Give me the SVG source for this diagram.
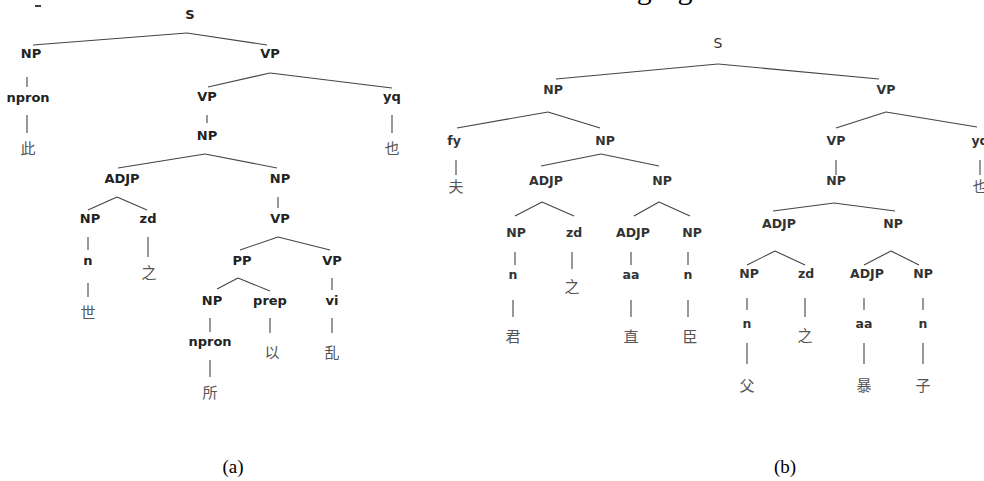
<svg xmlns="http://www.w3.org/2000/svg" width="984" height="481" viewBox="0 0 984 481">
<style>
.l{font-family:"DejaVu Sans",sans-serif;font-weight:bold;font-size:13px;fill:#222;text-anchor:middle}
.r{font-family:"DejaVu Sans",sans-serif;font-weight:bold;font-size:12.5px;fill:#333;text-anchor:middle}
.z{font-family:"Noto Sans CJK SC",sans-serif;font-size:15px;fill:#555;text-anchor:middle}
.c{font-family:"Liberation Serif",serif;font-size:19px;fill:#000;text-anchor:middle}
.e line{stroke:#444;stroke-width:1.1;fill:none}
</style>
<rect width="984" height="481" fill="#fff"/>
<text x="535" y="-1" style="font-family:'Liberation Serif',serif;font-size:30px;fill:#000">following figure.</text>
<line x1="35" y1="6" x2="41" y2="6" stroke="#000" stroke-width="1.5"/>
<g id="connectors" class="e">
<line x1="187" y1="33" x2="33" y2="45"/><line x1="187" y1="33" x2="267" y2="45"/>
<line x1="27" y1="77" x2="27" y2="87"/><line x1="27" y1="115" x2="27" y2="133"/>
<line x1="270" y1="73" x2="208" y2="87"/><line x1="270" y1="73" x2="392" y2="88"/>
<line x1="207" y1="115" x2="207" y2="123"/><line x1="392" y1="115" x2="392" y2="133"/>
<line x1="205" y1="154" x2="118" y2="168"/><line x1="205" y1="154" x2="277" y2="168"/>
<line x1="117" y1="197" x2="88" y2="210"/><line x1="117" y1="197" x2="147" y2="210"/>
<line x1="278" y1="197" x2="278" y2="208"/>
<line x1="88" y1="237" x2="88" y2="250"/><line x1="148" y1="237" x2="148" y2="257"/>
<line x1="278" y1="237" x2="240" y2="250"/><line x1="278" y1="237" x2="330" y2="250"/>
<line x1="88" y1="283" x2="88" y2="297"/>
<line x1="238" y1="278" x2="217" y2="289"/><line x1="238" y1="278" x2="270" y2="291"/>
<line x1="332" y1="278" x2="332" y2="290"/>
<line x1="210" y1="318" x2="210" y2="332"/><line x1="270" y1="318" x2="270" y2="333"/><line x1="332" y1="318" x2="332" y2="333"/>
<line x1="210" y1="360" x2="210" y2="377"/>
<line x1="718" y1="64" x2="556" y2="79"/><line x1="718" y1="64" x2="879" y2="79"/>
<line x1="548" y1="112" x2="457" y2="128"/><line x1="548" y1="112" x2="600" y2="128"/>
<line x1="886" y1="112" x2="836" y2="128"/><line x1="886" y1="112" x2="977" y2="127"/>
<line x1="456" y1="160" x2="456" y2="175"/><line x1="836" y1="160" x2="836" y2="175"/><line x1="980" y1="160" x2="980" y2="175"/>
<line x1="601" y1="154" x2="541" y2="166"/><line x1="601" y1="154" x2="659" y2="166"/>
<line x1="834" y1="203" x2="773" y2="211"/><line x1="834" y1="203" x2="895" y2="211"/>
<line x1="542" y1="202" x2="515" y2="216"/><line x1="542" y1="202" x2="574" y2="216"/>
<line x1="659" y1="202" x2="634" y2="216"/><line x1="659" y1="202" x2="690" y2="216"/>
<line x1="515" y1="252" x2="515" y2="265"/><line x1="572" y1="252" x2="572" y2="269"/><line x1="631" y1="252" x2="631" y2="265"/><line x1="688" y1="252" x2="688" y2="265"/>
<line x1="513" y1="300" x2="513" y2="317"/><line x1="631" y1="300" x2="631" y2="317"/><line x1="688" y1="300" x2="688" y2="317"/>
<line x1="775" y1="251" x2="747" y2="265"/><line x1="775" y1="251" x2="805" y2="265"/>
<line x1="891" y1="251" x2="864" y2="265"/><line x1="891" y1="251" x2="919" y2="265"/>
<line x1="747" y1="298" x2="747" y2="310"/><line x1="805" y1="298" x2="805" y2="317"/><line x1="864" y1="298" x2="864" y2="310"/><line x1="923" y1="298" x2="923" y2="310"/>
<line x1="747" y1="343" x2="747" y2="364"/><line x1="864" y1="343" x2="864" y2="364"/><line x1="923" y1="343" x2="923" y2="364"/>
</g>
<g id="tree-a">
<g id="a-S"><text class="l" x="190" y="19">S</text></g>
<g id="a-NP1"><text class="l" x="31" y="58">NP</text></g>
<g id="a-VP1"><text class="l" x="270" y="58">VP</text></g>
<g id="a-npron1"><text class="l" x="28" y="102">npron</text></g>
<g id="a-ci"><text class="z" x="28" y="154">此</text></g>
<g id="a-VP2"><text class="l" x="207" y="101">VP</text></g>
<g id="a-yq"><text class="l" x="392" y="101">yq</text></g>
<g id="a-ye"><text class="z" x="392" y="154">也</text></g>
<g id="a-NP2"><text class="l" x="207" y="140">NP</text></g>
<g id="a-ADJP"><text class="l" x="122" y="183">ADJP</text></g>
<g id="a-NP3"><text class="l" x="280" y="183">NP</text></g>
<g id="a-NP4"><text class="l" x="90" y="223">NP</text></g>
<g id="a-zd"><text class="l" x="148" y="223">zd</text></g>
<g id="a-VP3"><text class="l" x="280" y="223">VP</text></g>
<g id="a-n"><text class="l" x="88" y="265">n</text></g>
<g id="a-zhi"><text class="z" x="149" y="278">之</text></g>
<g id="a-PP"><text class="l" x="242" y="265">PP</text></g>
<g id="a-VP4"><text class="l" x="332" y="265">VP</text></g>
<g id="a-shi"><text class="z" x="88" y="318">世</text></g>
<g id="a-NP5"><text class="l" x="212" y="305">NP</text></g>
<g id="a-prep"><text class="l" x="270" y="305">prep</text></g>
<g id="a-vi"><text class="l" x="332" y="305">vi</text></g>
<g id="a-npron2"><text class="l" x="210" y="346">npron</text></g>
<g id="a-yi"><text class="z" x="272" y="358">以</text></g>
<g id="a-luan"><text class="z" x="332" y="358">乱</text></g>
<g id="a-suo"><text class="z" x="210" y="398">所</text></g>
</g>
<g id="tree-b">
<g id="b-S"><text class="r" x="718" y="48" style="font-weight:normal;font-size:14px">S</text></g>
<g id="b-NP1"><text class="r" x="553" y="94">NP</text></g>
<g id="b-VP1"><text class="r" x="886" y="94">VP</text></g>
<g id="b-fy"><text class="r" x="454" y="145">fy</text></g>
<g id="b-NP2"><text class="r" x="605" y="145">NP</text></g>
<g id="b-VP2"><text class="r" x="836" y="145">VP</text></g>
<g id="b-yq"><text class="r" x="980" y="145">yq</text></g>
<g id="b-fu"><text class="z" x="456" y="192">夫</text></g>
<g id="b-ye"><text class="z" x="980" y="192">也</text></g>
<g id="b-NP3"><text class="r" x="836" y="185">NP</text></g>
<g id="b-ADJP1"><text class="r" x="546" y="185">ADJP</text></g>
<g id="b-NP4"><text class="r" x="662" y="185">NP</text></g>
<g id="b-ADJP2"><text class="r" x="779" y="228">ADJP</text></g>
<g id="b-NP5"><text class="r" x="893" y="228">NP</text></g>
<g id="b-NP6"><text class="r" x="516" y="237">NP</text></g>
<g id="b-zd1"><text class="r" x="574" y="237">zd</text></g>
<g id="b-ADJP3"><text class="r" x="633" y="237">ADJP</text></g>
<g id="b-NP7"><text class="r" x="692" y="237">NP</text></g>
<g id="b-n1"><text class="r" x="513" y="279">n</text></g>
<g id="b-zhi1"><text class="z" x="572" y="292">之</text></g>
<g id="b-aa1"><text class="r" x="631" y="279">aa</text></g>
<g id="b-n2"><text class="r" x="688" y="279">n</text></g>
<g id="b-jun"><text class="z" x="513" y="342">君</text></g>
<g id="b-zhi2"><text class="z" x="631" y="342">直</text></g>
<g id="b-chen"><text class="z" x="690" y="342">臣</text></g>
<g id="b-NP8"><text class="r" x="749" y="278">NP</text></g>
<g id="b-zd2"><text class="r" x="806" y="278">zd</text></g>
<g id="b-ADJP4"><text class="r" x="867" y="278">ADJP</text></g>
<g id="b-NP9"><text class="r" x="923" y="278">NP</text></g>
<g id="b-n3"><text class="r" x="747" y="328">n</text></g>
<g id="b-zhi3"><text class="z" x="805" y="341">之</text></g>
<g id="b-aa2"><text class="r" x="864" y="328">aa</text></g>
<g id="b-n4"><text class="r" x="923" y="328">n</text></g>
<g id="b-fu2"><text class="z" x="747" y="391">父</text></g>
<g id="b-bao"><text class="z" x="864" y="391">暴</text></g>
<g id="b-zi"><text class="z" x="923" y="391">子</text></g>
</g>
<g id="captions">
<text class="c" x="233" y="473">(a)</text>
<text class="c" x="785" y="473">(b)</text>
</g>
</svg>
